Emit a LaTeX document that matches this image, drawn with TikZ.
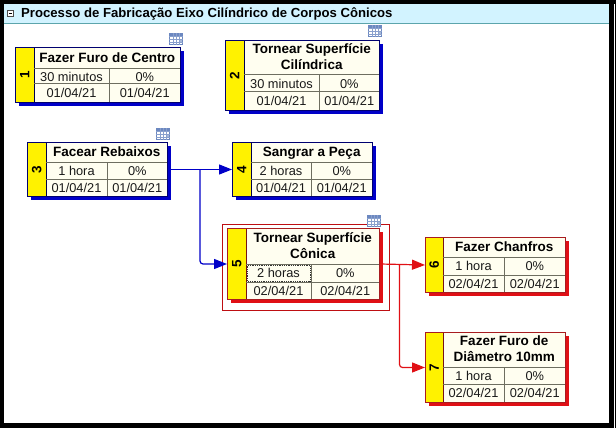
\documentclass[tikz,border=0pt]{standalone}
\usepackage{fontspec}
\setmainfont{Liberation Sans}
\usetikzlibrary{arrows.meta}
\definecolor{cellfill}{HTML}{FFFEF0}
\definecolor{cellline}{HTML}{6E6E60}
\definecolor{hdr}{HTML}{D2F3FF}
\definecolor{hdrline}{HTML}{5CA5AC}
\definecolor{bluelink}{HTML}{0000C8}
\definecolor{redlink}{HTML}{E01015}
\definecolor{bluedark}{HTML}{000070}
\definecolor{reddark}{HTML}{A81C20}
\definecolor{iconblue}{HTML}{6C88C0}
\tikzset{
  x=1pt,y=-1pt,
  boxframe/.style={draw=#1,line width=1pt,fill=cellfill,inner sep=0pt},
  titletext/.style={font=\fontsize{13.5}{16}\selectfont\bfseries,align=center,text=black,inner sep=0pt,yshift=-1pt},
  celltext/.style={font=\fontsize{12.8}{14}\selectfont,text=black!90,inner sep=0pt,text height=9.2pt,text depth=0pt},
  numtext/.style={font=\fontsize{13.5}{14}\selectfont\bfseries,rotate=90,inner sep=0pt},
  cellrule/.style={draw=cellline,line width=1pt},
  bluearrow/.style={draw=bluelink,line width=1.2pt,rounded corners=3pt,-{Triangle[length=13pt,width=10pt,fill=bluelink]}},
  redarrow/.style={draw=redlink,line width=1.2pt,rounded corners=3pt,-{Triangle[length=13pt,width=10pt,fill=redlink]}},
}
\newcommand{\gridicon}[2]{%
  \begin{scope}[shift={(#1,#2)}]
    \fill[white] (0,0) rectangle (14,12);
    \fill[iconblue] (0,0) rectangle (14,3);
    \fill[iconblue!60] (10,6) rectangle (14,9);
    \draw[iconblue,line width=0.7pt] (0.4,0.4) rectangle (13.6,11.6);
    \foreach \gx in {4,7,10} \draw[iconblue!80,line width=0.6pt] (\gx,0) -- (\gx,12);
    \foreach \gy in {3,6,9} \draw[iconblue!80,line width=0.6pt] (0,\gy) -- (14,\gy);
  \end{scope}}
\begin{document}
\begin{tikzpicture}
\useasboundingbox (0,0) rectangle (616,428);
\fill[black] (0,0) rectangle (616,428);
\fill[white] (4,4) rectangle (609,423);
\fill[white] (614,4) rectangle (615,428);
\fill[hdr] (4,4) rectangle (609,23);
\draw[hdrline,line width=1pt] (4,23.5) -- (609,23.5);
\draw[black!70,line width=0.6pt,fill=white] (7.5,10.5) rectangle (13.5,16.5);
\draw[black,line width=0.7pt] (8.8,13.5) -- (12.2,13.5);
\node[anchor=base west,inner sep=0pt,font=\fontsize{13.15}{15}\selectfont\bfseries,text=black] (head) at (21,18) {Processo de Fabricação Eixo Cilíndrico de Corpos Cônicos};
% selection frame of task 5
\draw[redlink!85!black,line width=0.9pt] (222.5,224.5) rectangle (389.5,310.5);
\foreach \n/\xa/\ya/\xb/\yb/\xy/\xd/\ra/\rb/\ttl/\cola/\colb/\cdate/\lc/\dc in {
  1/15.5/47.5/180.5/102.5/34/109/69/84/{Fazer Furo de Centro}/{30 minutos}/{0\%}/{01/04/21}/bluelink/bluedark,
  2/225.5/40.5/379.5/110.5/244/319/75/92/{Tornear Superfície\\Cilíndrica}/{30 minutos}/{0\%}/{01/04/21}/bluelink/bluedark,
  3/27.5/142.5/167.5/196.5/46/107/162/179/{Facear Rebaixos}/{1 hora}/{0\%}/{01/04/21}/bluelink/bluedark,
  4/232.5/142.5/372.5/196.5/251/311/162/179/{Sangrar a Peça}/{2 horas}/{0\%}/{01/04/21}/bluelink/bluedark,
  5/227.5/228.5/379.5/299.5/246/311/264/282/{Tornear Superfície\\Cônica}/{2 horas}/{0\%}/{02/04/21}/redlink/reddark,
  6/425.5/237.5/565.5/292.5/443/504/257/275/{Fazer Chanfros}/{1 hora}/{0\%}/{02/04/21}/redlink/reddark,
  7/425.5/332.5/565.5/402.5/443/504/367/384/{Fazer Furo de\\Diâmetro 10mm}/{1 hora}/{0\%}/{02/04/21}/redlink/reddark}{
  \fill[\lc] (\xa+3.5,\ya+3.5) rectangle (\xb+3.5,\yb+3.5);
  \node[boxframe=\dc,minimum width=\xb-\xa,minimum height=\yb-\ya] (b\n) at ({(\xa+\xb)/2},{(\ya+\yb)/2}) {};
  \fill[yellow] (\xa+0.5,\ya+0.5) rectangle (\xy,\yb-0.5);
  \draw[cellrule,draw=\dc!70!black] (\xy,\ya) -- (\xy,\yb);
  \draw[cellrule] (\xy,\ra) -- (\xb,\ra) (\xy,\rb) -- (\xb,\rb) (\xd,\ra) -- (\xd,\yb);
  \draw[\dc,line width=1pt] (\xa,\ya) rectangle (\xb,\yb);
  \node[numtext] (n\n) at ({(\xa+\xy)/2},{(\ya+\yb)/2}) {\n};
  \node[titletext] (t\n) at ({(\xy+\xb)/2},{(\ya+\ra)/2}) {\strut\ttl\strut};
  \node[celltext] (d\n) at ({(\xy+\xd)/2},{(\ra+\rb)/2}) {\cola};
  \node[celltext] (p\n) at ({(\xd+\xb)/2},{(\ra+\rb)/2}) {\colb};
  \node[celltext] (s\n) at ({(\xy+\xd)/2},{(\rb+\yb)/2}) {\cdate};
  \node[celltext] (f\n) at ({(\xd+\xb)/2},{(\rb+\yb)/2}) {\cdate};
}
\draw[black!80,line width=0.8pt,densely dotted] (247.5,265.5) rectangle (310,281);
\gridicon{169}{33}
\gridicon{368}{25}
\gridicon{156}{128}
\gridicon{367}{215}
% connectors
\coordinate (j3) at (200,169.5);
\coordinate (j5) at (399.5,264);
\draw[bluearrow] (b3.east) -- (b4.west);
\draw[bluearrow] (j3) |- (b5.west);
\draw[redarrow] (b5.east) -- (b6.west);
\draw[redarrow] (j5) |- (b7.west);
\end{tikzpicture}
\end{document}
